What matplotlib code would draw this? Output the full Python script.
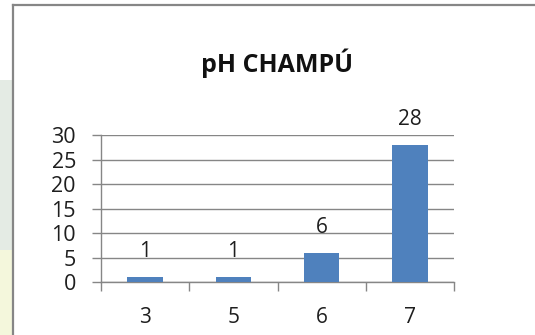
import matplotlib.pyplot as plt
from matplotlib.lines import Line2D
from matplotlib.patches import Rectangle

# valores de pH y número de champús
categorias = ["3", "5", "6", "7"]
valores = [1, 1, 6, 28]
ticks_y = [0, 5, 10, 15, 20, 25, 30]

azul = "#4f81bd"
gris = "#868686"
texto = "#1e1e1e"

plt.rcParams["font.family"] = ["Open Sans", "DejaVu Sans"]

fig = plt.figure(figsize=(5.35, 3.35), dpi=100)
fig.patch.set_facecolor("white")

# franja de fondo a la izquierda del recuadro
fig.add_artist(Rectangle((0, 85 / 335), 12 / 535, 170 / 335, transform=fig.transFigure,
                         facecolor="#e4ebe4", edgecolor="none"))
fig.add_artist(Rectangle((0, 0), 12 / 535, 85 / 335, transform=fig.transFigure,
                         facecolor="#f4f7dc", edgecolor="none"))

# marco del gráfico (arriba e izquierda)
fig.add_artist(Line2D([12.5 / 535, 1], [1 - 4.5 / 335, 1 - 4.5 / 335],
                      transform=fig.transFigure, color=gris, lw=1.6))
fig.add_artist(Line2D([12.5 / 535, 12.5 / 535], [0, 1 - 4.5 / 335],
                      transform=fig.transFigure, color=gris, lw=1.6))

ax = fig.add_axes([101 / 535, 52.7 / 335, 353 / 535, 147.3 / 335])
x = list(range(len(categorias)))
ax.bar(x, valores, width=0.4, color=azul, zorder=3)

for xi, v in zip(x, valores):
    ax.annotate(str(v), (xi, v), xytext=(0, 11), textcoords="offset points",
                ha="center", va="bottom", fontsize=15, color=texto)

ax.set_xlim(-0.5, len(categorias) - 0.5)
ax.set_ylim(0, 30)
ax.set_yticks(ticks_y)
ax.set_yticklabels([str(t) for t in ticks_y])
ax.set_xticks(x)
ax.set_xticklabels(categorias)
ax.set_xticks([i - 0.5 for i in range(len(categorias) + 1)], minor=True)

ax.grid(axis="y", color=gris, lw=1, zorder=0)
for s in ["top", "right"]:
    ax.spines[s].set_visible(False)
for s in ["left", "bottom"]:
    ax.spines[s].set_color(gris)
    ax.spines[s].set_linewidth(1)

ax.tick_params(axis="y", length=6.5, width=1, color=gris, pad=11.5,
               labelsize=15.5, labelcolor=texto)
ax.tick_params(axis="x", which="major", length=0, pad=18,
               labelsize=15, labelcolor=texto)
ax.tick_params(axis="x", which="minor", length=6.5, width=1, color=gris)

fig.text(277 / 535, 1 - 63 / 335, "pH CHAMPÚ", ha="center", va="center",
         fontsize=18, fontweight="bold", color="#111111")

fig.savefig("out.png", dpi=100)
